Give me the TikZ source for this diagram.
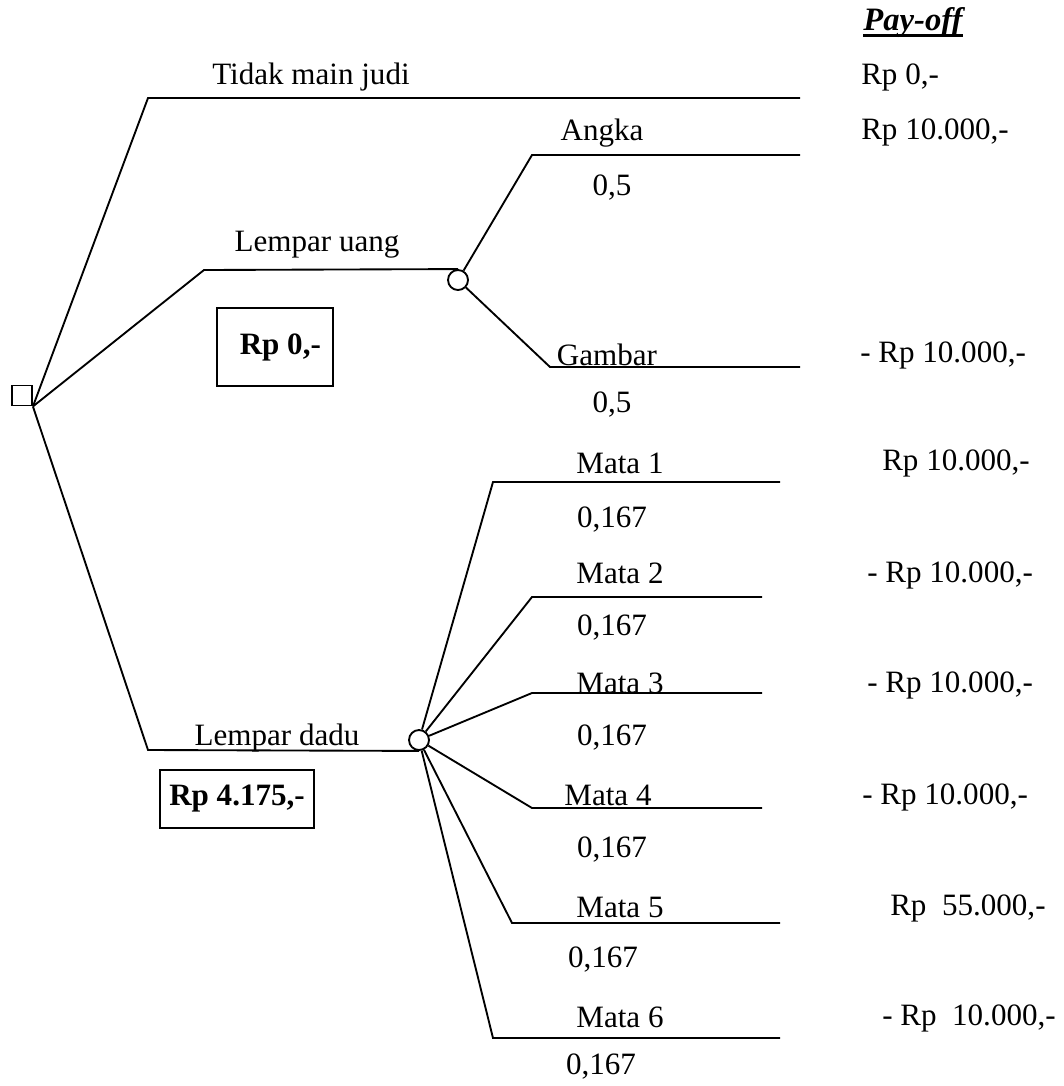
\documentclass[tikz,border=0pt]{standalone}
\usepackage{fontspec}
\setmainfont{Liberation Serif}
\usepackage{tikz}

\begin{document}
\begin{tikzpicture}[x=0.75pt,y=0.75pt,yscale=-1,xscale=1,
  every node/.style={font=\fontsize{23.3}{28}\selectfont},
  branch/.style={line width=1.4pt},
  txt/.style={inner sep=0pt},
  pay/.style={inner sep=0pt,anchor=west},
  chance/.style={circle,draw,line width=1.4pt,minimum size=15pt,inner sep=0pt,fill=white},
  valbox/.style={draw,line width=1.4pt,inner sep=0pt,font=\fontsize{23.3}{28}\selectfont\bfseries}]
\useasboundingbox (0,0) rectangle (1064,1086);

%Decision and chance nodes
\node[draw,line width=1.4pt,minimum size=15pt,inner sep=0pt] (dec) at (22,395.5) {};
\node[chance] (cu) at (458,280) {};
\node[chance] (cd) at (419,740) {};

%Bend and end points
\coordinate (b0) at (148,98);   \coordinate (e0) at (800,98);
\coordinate (b1) at (204,270);
\coordinate (b2) at (148,750);
\coordinate (ba) at (532,155);  \coordinate (ea) at (800,155);
\coordinate (bg) at (550,367);  \coordinate (eg) at (800,367);
\coordinate (bm1) at (493,482); \coordinate (em1) at (780,482);
\coordinate (bm2) at (532,597); \coordinate (em2) at (762,597);
\coordinate (bm3) at (532,693); \coordinate (em3) at (762,693);
\coordinate (bm4) at (532,808); \coordinate (em4) at (762,808);
\coordinate (bm5) at (512,923); \coordinate (em5) at (780,923);
\coordinate (bm6) at (493,1038); \coordinate (em6) at (780,1038);

%Straight Lines: decision branches
\draw[branch] (dec.south east) -- (b0) -- (e0);
\draw[branch] (dec.south east) -- (b1) -- (cu.north);
\draw[branch] (dec.south east) -- (b2) -- (cd.south);
%Straight Lines: coin
\draw[branch] (cu) -- (ba) -- (ea);
\draw[branch] (cu) -- (bg) -- (eg);
%Straight Lines: dice
\draw[branch] (cd) -- (bm1) -- (em1);
\draw[branch] (cd) -- (bm2) -- (em2);
\draw[branch] (cd) -- (bm3) -- (em3);
\draw[branch] (cd) -- (bm4) -- (em4);
\draw[branch] (cd) -- (bm5) -- (em5);
\draw[branch] (cd) -- (bm6) -- (em6);

% Value boxes
\node[valbox,minimum width=87pt,minimum height=58.5pt] (ev1) at (275,347) {\hspace{8pt}Rp 0,-};
\node[valbox,minimum width=115.5pt,minimum height=43.5pt] (ev2) at (237,799) {Rp 4.175,-};

% Text Node: branch labels
\node[txt] (tidak) at (311,77) {Tidak main judi};
\node[txt] (uang) at (317,245) {Lempar uang};
\node[txt] (dadu) at (277,738) {Lempar dadu};
\node[txt] (angka) at (602,133) {Angka};
\node[txt] (pa) at (612,188) {0,5};
\node[txt] (gambar) at (607,355) {Gambar};
\node[txt] (pg) at (612,405) {0,5};
\node[txt] (m1) at (620,463) {Mata 1};
\node[txt] (pm1) at (612,520) {0,167};
\node[txt] (m2) at (620,573) {Mata 2};
\node[txt] (pm2) at (612,628) {0,167};
\node[txt] (m3) at (620,683) {Mata 3};
\node[txt] (pm3) at (612,738) {0,167};
\node[txt] (m4) at (608,795) {Mata 4};
\node[txt] (pm4) at (612,850) {0,167};
\node[txt] (m5) at (620,907) {Mata 5};
\node[txt] (pm5) at (603,960) {0,167};
\node[txt] (m6) at (620,1017) {Mata 6};
\node[txt] (pm6) at (601,1067) {0,167};

% Text Node: pay-off column
\node[txt,font=\fontsize{24.5}{29}\selectfont\bfseries\itshape] (payoff) at (913,23) {Pay-off};
\draw[line width=2.2pt] ([yshift=-2pt]payoff.south west) -- ([yshift=-2pt]payoff.south east);
\node[pay] (v0) at (861,77) {Rp 0,-};
\node[pay] (va) at (861,132) {Rp 10.000,-};
\node[pay] (vg) at (860,355) {- Rp 10.000,-};
\node[pay] (v1) at (882,463) {Rp 10.000,-};
\node[pay] (v2) at (867,575) {- Rp 10.000,-};
\node[pay] (v3) at (867,685) {- Rp 10.000,-};
\node[pay] (v4) at (862,797) {- Rp 10.000,-};
\node[pay] (v5) at (890,908) {Rp\ \ 55.000,-};
\node[pay] (v6) at (882,1018) {- Rp\ \ 10.000,-};

\end{tikzpicture}
\end{document}
